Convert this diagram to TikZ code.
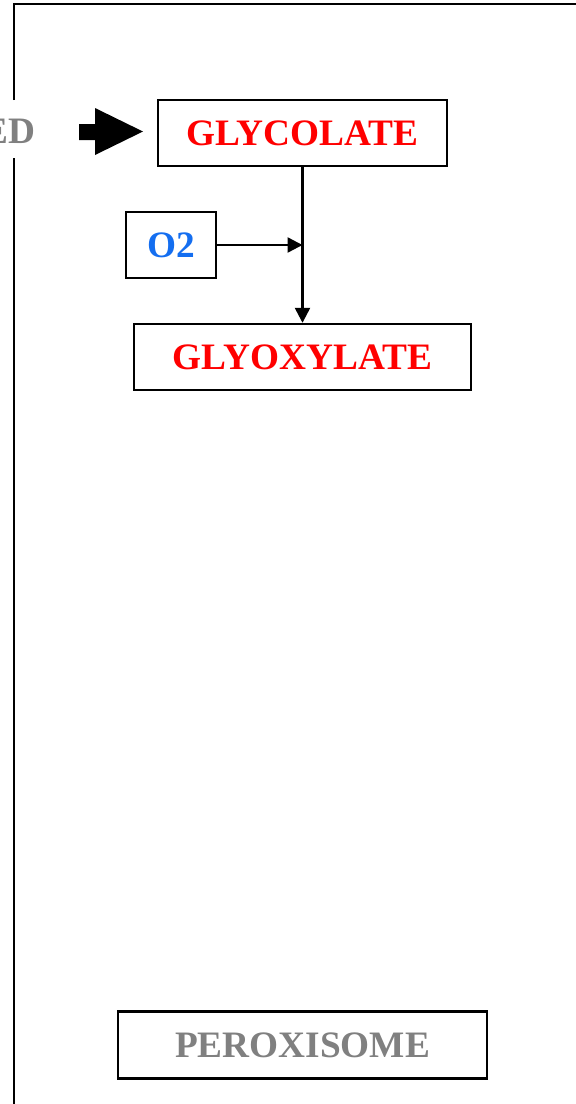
\documentclass[tikz,border=0pt]{standalone}
\usepackage{fontspec}
\setmainfont{Liberation Serif}
\usetikzlibrary{arrows.meta}
\definecolor{glyred}{RGB}{255,0,0}
\definecolor{o2blue}{RGB}{20,110,240}
\definecolor{labgray}{RGB}{128,128,128}
\begin{document}
\begin{tikzpicture}[x=1pt,y=-1pt,
  boxstyle/.style={draw=black,line width=2.4pt,inner sep=0pt,font=\fontsize{37.3}{42}\selectfont\bfseries},
  conn/.style={line width=2.4pt,-{Triangle[length=15pt,width=15pt]}}]
\useasboundingbox (0,0) rectangle (576,1104);
% frame
\draw[line width=2.4pt] (14,1105) -- (14,158);
\draw[line width=2.4pt] (14,100) -- (14,4) -- (577,4);
% label at left edge
\node[anchor=east,inner sep=0pt,text=labgray,font=\fontsize{37.3}{42}\selectfont\bfseries] (ed) at (36,131) {ED};
% fat arrow
\fill (79,124) -- (95,124) -- (95,108) -- (143,131.5) -- (95,155) -- (95,140) -- (79,140) -- cycle;
% boxes
\node[boxstyle,text=glyred,minimum width=289pt,minimum height=66pt] (glycolate) at (302.5,133) {GLYCOLATE};
\node[boxstyle,text=o2blue,minimum width=90pt,minimum height=66pt] (o2) at (171,245) {O2};
\node[boxstyle,text=glyred,minimum width=337pt,minimum height=66pt] (glyoxylate) at (302.5,357) {GLYOXYLATE};
\node[boxstyle,text=labgray,minimum width=369pt,minimum height=67pt] (perox) at (302.5,1045) {PEROXISOME};
% connectors
\coordinate (j) at (glycolate.south |- o2.east);
\draw[conn] (glycolate.south) -- (glyoxylate.north);
\draw[conn] (o2.east) -- (j);
\end{tikzpicture}
\end{document}
